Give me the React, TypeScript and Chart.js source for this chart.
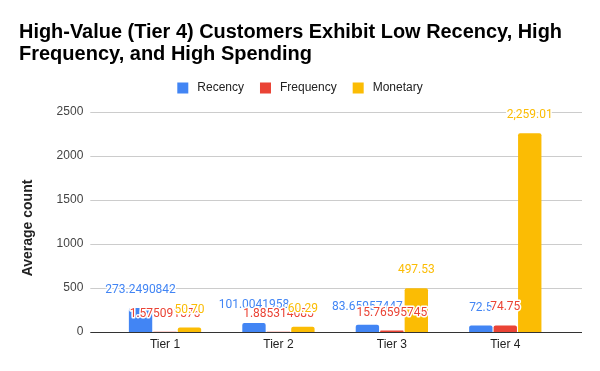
import React, { useEffect, useRef } from "react";
import { Chart, registerables } from "chart.js";

Chart.register(...registerables);

const titleLines = [
  "High-Value (Tier 4) Customers Exhibit Low Recency, High",
  "Frequency, and High Spending",
];
const categories = ["Tier 1", "Tier 2", "Tier 3", "Tier 4"];
const seriesNames = ["Recency", "Frequency", "Monetary"];
const seriesColors = ["#4285F4", "#EA4335", "#FBBC04"];
const recency = [273.2490842, 101.0041958, 83.65957447, 72.5];
const frequency = [1.575091575, 1.885314685, 15.76595745, 74.75];
const monetary = [50.7, 60.29, 497.53, 2259.01];
const seriesDecimals = [null, null, 2];
const yMin = 0;
const yMax = 2500;
const yStep = 500;
const yAxisTitle = "Average count";

const SANS = "'Liberation Sans', Arial, sans-serif";
const LABEL_FONT = "12px Roboto, 'Liberation Sans', sans-serif";

function formatValue(v: number, decimals: number | null): string {
  if (decimals === null) return String(v);
  return v.toLocaleString("en-US", {
    minimumFractionDigits: decimals,
    maximumFractionDigits: decimals,
  });
}

const decorPlugin = {
  id: "decor",
  beforeDatasetsDraw(chart: any) {
    const { ctx, chartArea, scales } = chart;
    const y = scales.y;
    ctx.save();
    ctx.strokeStyle = "#cccccc";
    ctx.lineWidth = 1;
    y.ticks.forEach((t: any) => {
      if (t.value === 0) return;
      const py = Math.round(y.getPixelForValue(t.value)) + 0.5;
      ctx.beginPath();
      ctx.moveTo(chartArea.left - 18, py);
      ctx.lineTo(chartArea.right + 20, py);
      ctx.stroke();
    });
    ctx.restore();
  },
  afterDatasetsDraw(chart: any) {
    const { ctx, chartArea, scales } = chart;
    const y = scales.y;
    ctx.save();
    // baseline axis
    const py0 = Math.round(y.getPixelForValue(0)) + 0.5;
    ctx.strokeStyle = "#333333";
    ctx.lineWidth = 1;
    ctx.beginPath();
    ctx.moveTo(chartArea.left - 18, py0);
    ctx.lineTo(chartArea.right + 20, py0);
    ctx.stroke();

    // data labels
    ctx.font = LABEL_FONT;
    ctx.textAlign = "center";
    ctx.textBaseline = "alphabetic";
    ctx.lineJoin = "round";
    chart.data.datasets.forEach((ds: any, di: number) => {
      const meta = chart.getDatasetMeta(di);
      meta.data.forEach((bar: any, i: number) => {
        const text = formatValue(ds.data[i], seriesDecimals[di]);
        const ty = bar.y - 15;
        ctx.lineWidth = 3;
        ctx.strokeStyle = "#ffffff";
        ctx.strokeText(text, bar.x, ty);
        ctx.fillStyle = ds.backgroundColor;
        ctx.fillText(text, bar.x, ty);
      });
    });
    ctx.restore();
  },
  afterDraw(chart: any) {
    const { ctx, chartArea } = chart;
    ctx.save();
    // legend
    ctx.font = "12px " + SANS;
    const box = 11;
    const gapText = 9;
    const gapItem = 16;
    const items = chart.data.datasets.map((ds: any) => ({
      label: ds.label,
      color: ds.backgroundColor,
      w: ctx.measureText(ds.label).width,
    }));
    const total =
      items.reduce((s: number, it: any) => s + box + gapText + it.w, 0) +
      gapItem * (items.length - 1);
    let x = chart.width / 2 - total / 2;
    const cy = 88;
    ctx.textBaseline = "middle";
    ctx.textAlign = "left";
    items.forEach((it: any) => {
      ctx.fillStyle = it.color;
      ctx.fillRect(x, cy - box / 2, box, box);
      x += box + gapText;
      ctx.fillStyle = "#222222";
      ctx.fillText(it.label, x, cy);
      x += it.w + gapItem;
    });

    // y axis title
    ctx.font = "bold 14px " + SANS;
    ctx.fillStyle = "#222222";
    ctx.textAlign = "center";
    ctx.textBaseline = "middle";
    ctx.translate(chartArea.left - 80.5, (chartArea.top + chartArea.bottom) / 2 + 6);
    ctx.rotate(-Math.PI / 2);
    ctx.fillText(yAxisTitle, 0, 0);
    ctx.restore();
  },
};

export default function App() {
  const canvasRef = useRef<HTMLCanvasElement | null>(null);

  useEffect(() => {
    document.body.style.margin = "0";
    const canvas = canvasRef.current;
    if (!canvas) return;
    const seriesValues = [recency, frequency, monetary];
    const chart = new Chart(canvas, {
      type: "bar",
      data: {
        labels: categories,
        datasets: seriesNames.map((name, i) => ({
          label: name,
          data: seriesValues[i],
          backgroundColor: seriesColors[i],
          borderRadius: { topLeft: 2, topRight: 2, bottomLeft: 0, bottomRight: 0 },
          borderSkipped: "bottom",
          categoryPercentage: 0.647,
          barPercentage: 0.955,
        })),
      },
      options: {
        responsive: false,
        animation: false,
        layout: { padding: { left: 19, right: 38, top: 0, bottom: 0 } },
        plugins: {
          legend: { display: false },
          tooltip: { enabled: false },
          title: {
            display: true,
            text: titleLines,
            align: "start",
            color: "#000000",
            font: { family: SANS, size: 20, weight: "bold", lineHeight: 1.1 },
            padding: { top: 21, bottom: 47 },
          },
        },
        scales: {
          x: {
            grid: { display: false, drawTicks: false },
            border: { display: false },
            ticks: {
              padding: 5,
              color: "#222222",
              font: { family: SANS, size: 12 },
            },
            afterFit: (scale: any) => {
              scale.height = 39;
            },
          },
          y: {
            min: yMin,
            max: yMax,
            grid: { display: false, drawTicks: false },
            border: { display: false },
            ticks: {
              stepSize: yStep,
              padding: 25,
              color: "#444444",
              font: { family: SANS, size: 12 },
              callback: (v: any) => String(v),
            },
            afterFit: (scale: any) => {
              scale.width = 89.3;
            },
          },
        },
      },
      plugins: [decorPlugin],
    });
    return () => chart.destroy();
  }, []);

  return (
    <div style={{ width: 600, height: 371 }}>
      <canvas ref={canvasRef} width={600} height={371} />
    </div>
  );
}
